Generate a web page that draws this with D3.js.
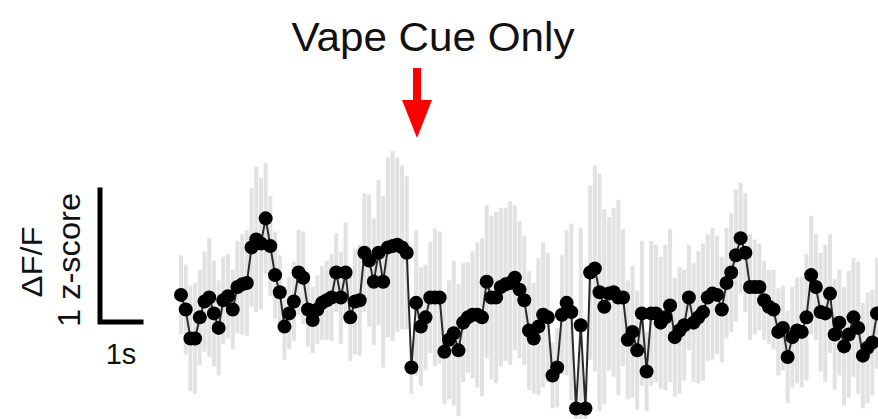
<!DOCTYPE html>
<html>
<head>
<meta charset="utf-8">
<script src="https://cdn.jsdelivr.net/npm/d3@7/dist/d3.min.js"></script>
<style>
  html, body { margin: 0; padding: 0; background: #fff; }
  svg { display: block; font-family: "Liberation Sans", Arial, sans-serif; }
</style>
</head>
<body>
<svg id="chart" width="878" height="419"></svg>
<script>
// Mean z-scored ΔF/F trace, one value per frame
const meanZ = [
  0.19, 0.08, -0.14, -0.14, 0.02, 0.14, 0.17, 0.05, -0.06, 0.15,
  0.18, 0.08, 0.25, 0.27, 0.28, 0.55, 0.61, 0.58, 0.77, 0.56,
  0.34, 0.21, -0.05, 0.05, 0.14, 0.36, 0.32, 0.08, 0.00, 0.08,
  0.13, 0.15, 0.17, 0.36, 0.17, 0.36, 0.02, 0.14, 0.15, 0.51,
  0.45, 0.29, 0.51, 0.29, 0.55, 0.56, 0.57, 0.55, 0.51, -0.36,
  0.13, -0.05, 0.02, 0.17, 0.17, 0.17, -0.24, -0.15, -0.10, -0.23,
  -0.02, 0.02, 0.04, 0.04, 0.02, 0.29, 0.17, 0.17, 0.25, 0.27,
  0.28, 0.32, 0.23, 0.15, -0.08, -0.14, -0.05, 0.04, 0.02, -0.42,
  -0.36, 0.04, 0.13, 0.06, -0.67, -0.04, -0.67, 0.36, 0.39, 0.21,
  0.10, 0.20, 0.21, 0.17, 0.17, -0.15, -0.09, -0.23, 0.05, -0.39,
  0.05, 0.05, -0.02, 0.02, 0.11, -0.13, -0.08, -0.04, 0.17, -0.02,
  0.02, 0.06, 0.17, 0.20, 0.19, 0.08, 0.28, 0.36, 0.49, 0.62,
  0.51, 0.25, 0.25, 0.25, 0.15, 0.10, 0.08, -0.09, -0.06, -0.28,
  -0.13, -0.08, -0.09, 0.02, 0.34, 0.25, 0.06, 0.05, 0.20, -0.11,
  -0.02, -0.20, -0.11, 0.02, -0.06, -0.27, -0.21, -0.17, 0.05
];

// SEM per frame (z-score units)
const semZ = [
  0.30, 0.34, 0.40, 0.42, 0.36, 0.38, 0.45, 0.40, 0.36, 0.33,
  0.32, 0.30, 0.35, 0.38, 0.40, 0.45, 0.55, 0.50, 0.42, 0.38,
  0.33, 0.28, 0.25, 0.27, 0.30, 0.32, 0.35, 0.28, 0.25, 0.26,
  0.28, 0.30, 0.33, 0.30, 0.35, 0.38, 0.33, 0.40, 0.42, 0.45,
  0.50, 0.48, 0.55, 0.65, 0.68, 0.72, 0.66, 0.62, 0.58, 0.20,
  0.55, 0.45, 0.40, 0.42, 0.52, 0.50, 0.40, 0.45, 0.55, 0.50,
  0.45, 0.42, 0.48, 0.55, 0.60, 0.58, 0.62, 0.65, 0.60, 0.58,
  0.62, 0.55, 0.52, 0.49, 0.45, 0.42, 0.52, 0.55, 0.49, 0.25,
  0.30, 0.45, 0.55, 0.67, 0.20, 0.74, 0.22, 0.66, 0.78, 0.90,
  0.74, 0.58, 0.64, 0.74, 0.52, 0.45, 0.50, 0.45, 0.55, 0.30,
  0.55, 0.52, 0.50, 0.55, 0.58, 0.45, 0.48, 0.42, 0.40, 0.45,
  0.50, 0.52, 0.48, 0.50, 0.45, 0.40, 0.42, 0.45, 0.50, 0.42,
  0.45, 0.40, 0.36, 0.33, 0.30, 0.28, 0.30, 0.33, 0.32, 0.35,
  0.38, 0.40, 0.42, 0.48, 0.45, 0.40, 0.45, 0.52, 0.45, 0.42,
  0.40, 0.45, 0.48, 0.45, 0.50, 0.40, 0.42, 0.40, 0.42
];

const TITLE = 'Vape Cue Only';
const SCALE_Z = 1;             // vertical scale bar, z-score
const SCALE_SEC = 1;           // horizontal scale bar, seconds
const PX_PER_SEC = 43;

const svg = d3.select('#chart');

const x = d3.scaleLinear().domain([0, meanZ.length - 1]).range([181, 877]);
const y = d3.scaleLinear().domain([0, 1]).range([320, 188]);

// error bars
svg.append('g').attr('class', 'sem')
  .selectAll('rect')
  .data(meanZ)
  .join('rect')
  .attr('x', (d, i) => x(i) - 2)
  .attr('width', 4)
  .attr('y', (d, i) => y(d + semZ[i]))
  .attr('height', (d, i) => y(d - semZ[i]) - y(d + semZ[i]))
  .attr('fill', '#d6d6d6')
  .attr('opacity', 0.7);

// trace
svg.append('path')
  .datum(meanZ)
  .attr('fill', 'none')
  .attr('stroke', '#2a2a2a')
  .attr('stroke-width', 2)
  .attr('d', d3.line().x((d, i) => x(i)).y(d => y(d)));

svg.append('g').attr('class', 'points')
  .selectAll('circle')
  .data(meanZ)
  .join('circle')
  .attr('cx', (d, i) => x(i))
  .attr('cy', d => y(d))
  .attr('r', 7)
  .attr('fill', '#000');

// title + cue arrow
svg.append('text')
  .attr('x', 433).attr('y', 51)
  .attr('text-anchor', 'middle')
  .attr('font-size', 40)
  .attr('textLength', 283)
  .attr('lengthAdjust', 'spacingAndGlyphs')
  .attr('fill', '#111')
  .text(TITLE);

const ax = 417;
svg.append('rect')
  .attr('x', ax - 4).attr('y', 68).attr('width', 8).attr('height', 34)
  .attr('fill', '#ff0000');
svg.append('path')
  .attr('d', `M${ax - 15},100 L${ax + 15},100 L${ax},138 Z`)
  .attr('fill', '#ff0000');

// scale bar
const sb = svg.append('g').attr('class', 'scalebar');
const sbX = 100, sbY = 322;
sb.append('path')
  .attr('d', `M${sbX},${sbY - (y(0) - y(SCALE_Z))} V${sbY} H${sbX + SCALE_SEC * PX_PER_SEC - 2}`)
  .attr('fill', 'none')
  .attr('stroke', '#000')
  .attr('stroke-width', 5)
  .attr('stroke-linecap', 'square');

sb.append('text')
  .attr('x', 121).attr('y', 364)
  .attr('text-anchor', 'middle')
  .attr('font-size', 29)
  .attr('fill', '#111')
  .text(`${SCALE_SEC}s`);

sb.append('text')
  .attr('transform', 'translate(80,260) rotate(-90)')
  .attr('text-anchor', 'middle')
  .attr('font-size', 31)
  .attr('textLength', 134)
  .attr('lengthAdjust', 'spacingAndGlyphs')
  .attr('fill', '#111')
  .text(`${SCALE_Z} z-score`);

sb.append('text')
  .attr('transform', 'translate(42,262) rotate(-90)')
  .attr('text-anchor', 'middle')
  .attr('font-size', 30)
  .attr('textLength', 71)
  .attr('lengthAdjust', 'spacingAndGlyphs')
  .attr('fill', '#111')
  .text('ΔF/F');
</script>
</body>
</html>
